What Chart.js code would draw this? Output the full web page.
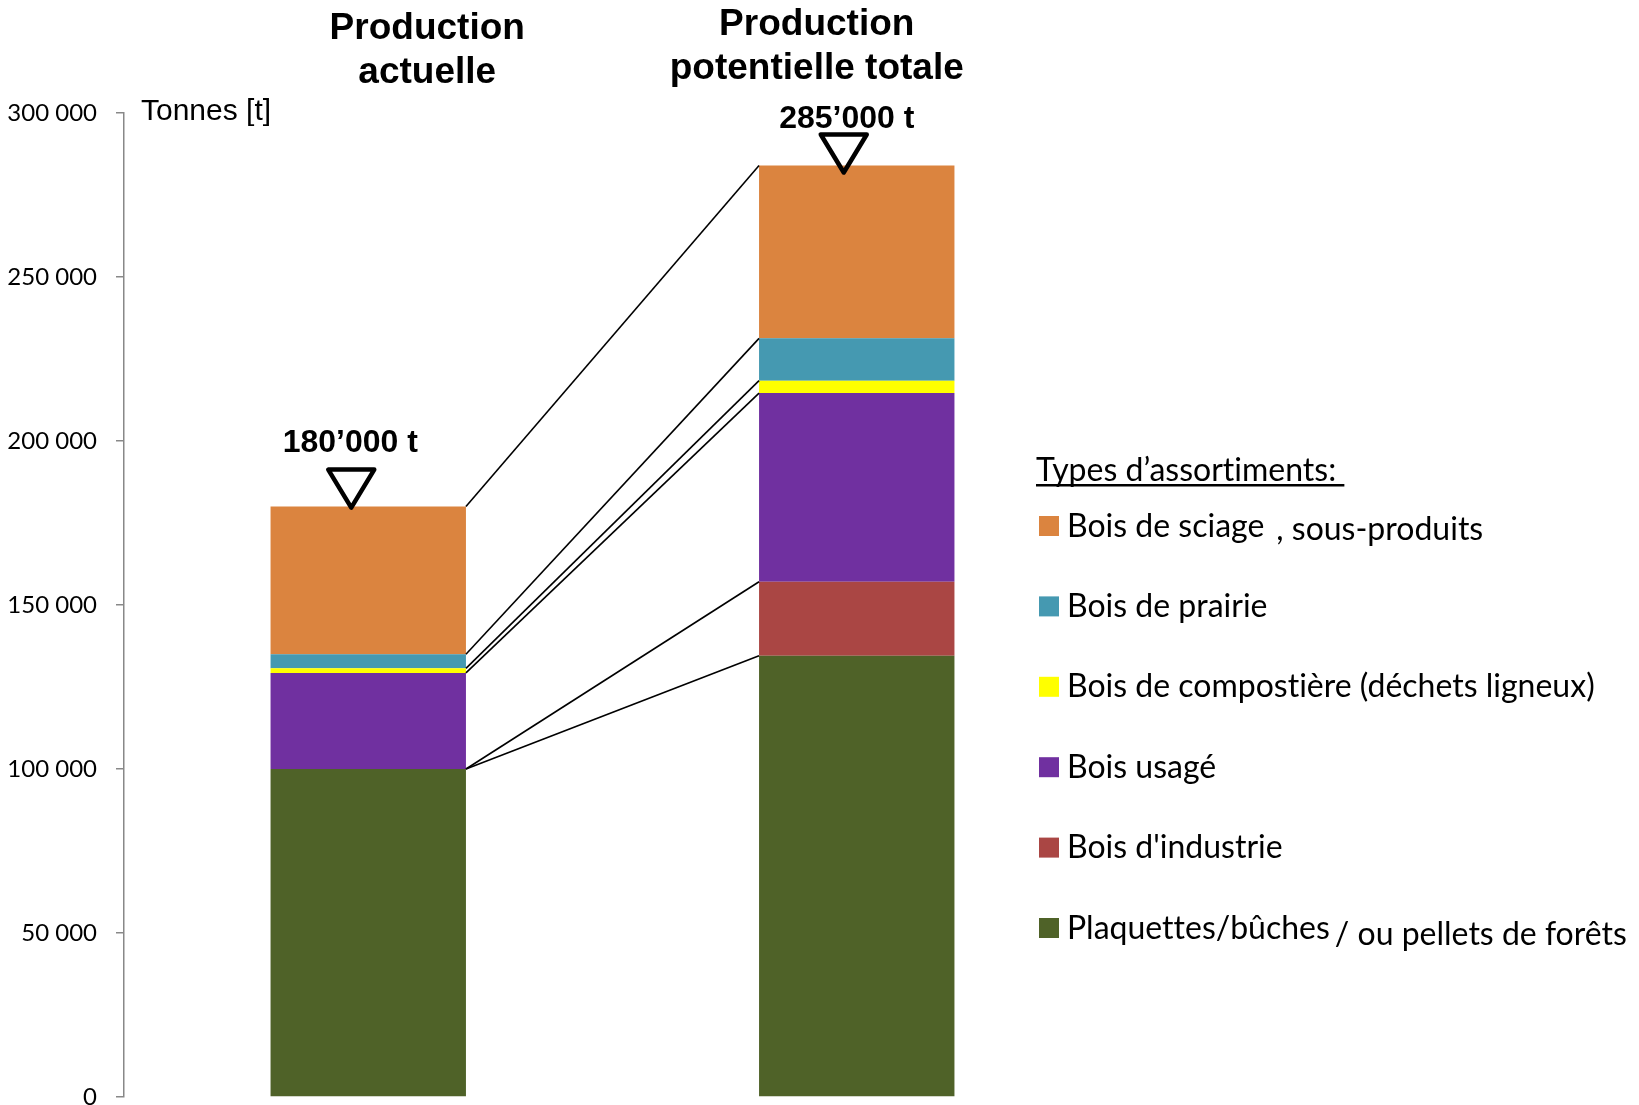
<!DOCTYPE html>
<html><head><meta charset="utf-8">
<script src="https://cdn.jsdelivr.net/npm/chart.js@4.4.1/dist/chart.umd.min.js"></script>
<style>html,body{margin:0;padding:0;background:#fff;}#wrap{width:1639px;height:1105px;position:relative;}</style>
</head><body><div id="wrap"><canvas id="c"></canvas></div>
<script>
// ---------- data ----------
const categories = ['Production actuelle', 'Production potentielle totale'];
const titleLines = [['Production', 'actuelle'], ['Production', 'potentielle totale']];
const seriesNames = ['Plaquettes/bûches / ou pellets de forêts', "Bois d'industrie", 'Bois usagé',
  'Bois de compostière (déchets ligneux)', 'Bois de prairie', 'Bois de sciage , sous-produits'];
const plaquettes = [100000, 134500];
const industrie = [0, 22600];
const usage = [29300, 57500];
const compostiere = [1400, 3800];
const prairie = [4300, 12900];
const sciage = [45000, 52700];
const totalLabels = ['180’000 t', '285’000 t'];
const yTickValues = [0, 50000, 100000, 150000, 200000, 250000, 300000];
const axisTitle = 'Tonnes [t]';
const legendTitle = 'Types d’assortiments:';
// legend texts (top to bottom), split where the original has a shifted second fragment
const legendParts = [['Bois de sciage', ', sous-produits'], ['Bois de prairie'],
  ['Bois de compostière (déchets ligneux)'], ['Bois usagé'], ["Bois d'industrie"],
  ['Plaquettes/bûches', '/ ou pellets de forêts']];

// ---------- styles ----------
const colors = ['#4F6228', '#AA4644', '#7030A0', '#FFFF00', '#4599B1', '#DB843F'];
const LEG_FONT = '32px Lato';
const titleOffsetX = [59, -40];
const titleBaseline = [39, 35];
const labelOffsetX = [-18, -10];
const labelOffsetY = [55, 37];
const triOffsetX = [-17, -13];
const triTopOffset = [-37, -31];

const fmt = v => String(v).replace(/\B(?=(\d{3})+(?!\d))/g, ' ');

const overlay = {
  id: 'overlay',
  afterDatasetsDraw(chart) {
    const ctx = chart.ctx;
    const n = chart.data.datasets.length;
    ctx.save();
    // series connector lines
    ctx.strokeStyle = '#000'; ctx.lineWidth = 1.6;
    for (let i = 0; i < n; i++) {
      const m = chart.getDatasetMeta(i);
      const a = m.data[0].getProps(['x', 'y', 'width'], true);
      const b = m.data[1].getProps(['x', 'y', 'width'], true);
      ctx.beginPath();
      ctx.moveTo(a.x + a.width / 2, a.y);
      ctx.lineTo(b.x - b.width / 2, b.y);
      ctx.stroke();
    }
    const top = chart.getDatasetMeta(n - 1).data;
    top.forEach((el, i) => {
      const p = el.getProps(['x', 'y'], true);
      // column titles
      ctx.fillStyle = '#000';
      ctx.font = 'bold 37px "Liberation Sans", Arial';
      ctx.textAlign = 'center'; ctx.textBaseline = 'alphabetic';
      titleLines[i].forEach((t, k) => ctx.fillText(t, p.x + titleOffsetX[i], titleBaseline[i] + k * 44));
      // total label
      ctx.font = 'bold 32px "Liberation Sans", Arial';
      ctx.fillText(totalLabels[i], p.x + labelOffsetX[i], p.y - labelOffsetY[i]);
      // triangle marker
      const tx = p.x + triOffsetX[i], ty = p.y + triTopOffset[i];
      ctx.beginPath();
      ctx.moveTo(tx - 23, ty);
      ctx.lineTo(tx + 23, ty);
      ctx.lineTo(tx, ty + 38);
      ctx.closePath();
      ctx.lineWidth = 4.5; ctx.lineJoin = 'round'; ctx.strokeStyle = '#000';
      ctx.stroke();
    });
    // axis title
    ctx.textAlign = 'left';
    ctx.font = '30px "Liberation Sans", Arial';
    ctx.fillText(axisTitle, 141, 120);
    // legend
    try { ctx.textRendering = 'optimizeSpeed'; } catch (e) {}
    ctx.font = LEG_FONT;
    ctx.fillText(legendTitle, 1036, 481);
    const tw = ctx.measureText(legendTitle + ' ').width;
    ctx.fillRect(1036, 484, tw, 2.5);
    const ds = chart.data.datasets.slice().reverse();
    ds.forEach((d, k) => {
      const cy = 526 + k * 80.4;
      ctx.fillStyle = d.backgroundColor;
      ctx.fillRect(1039, cy - 10, 20, 20);
      ctx.fillStyle = '#000';
      const parts = legendParts[k];
      ctx.fillText(parts[0], 1067, cy + 10.5);
      if (parts[1]) {
        const w = ctx.measureText(parts[0]).width;
        const gap = k === 0 ? 12 : 5;
        const shift = k === 0 ? 3 : 6;
        ctx.fillText(parts[1], 1067 + w + gap, cy + 10.5 + shift);
      }
    });
    ctx.restore();
  }
};

const seriesData = [plaquettes, industrie, usage, compostiere, prairie, sciage];
new Chart(document.getElementById('c'), {
  type: 'bar',
  data: {
    labels: categories,
    datasets: seriesNames.map((name, i) => ({
      label: name, data: seriesData[i], backgroundColor: colors[i],
      borderWidth: 0, barPercentage: 0.4, categoryPercentage: 1.0
    }))
  },
  options: {
    responsive: true, maintainAspectRatio: false, animation: false,
    layout: { padding: { left: 0, top: 113, right: 538, bottom: 8 } },
    plugins: { legend: { display: false }, tooltip: { enabled: false }, title: { display: false } },
    scales: {
      x: { stacked: true, display: false },
      y: {
        stacked: true, min: 0, max: 300000,
        afterBuildTicks: s => { s.ticks = yTickValues.map(v => ({ value: v })); },
        ticks: { callback: v => fmt(v), font: { family: 'Lato', size: 24 }, color: '#000', padding: 19 },
        grid: { display: true, drawOnChartArea: false, drawTicks: true, tickLength: 8, color: '#888', lineWidth: 1.5 },
        border: { display: true, color: '#888', width: 1.5 },
        afterFit: s => { s.width = 124; s.paddingTop = 0; s.paddingBottom = 0; }
      }
    }
  },
  plugins: [overlay]
});
</script></body></html>
